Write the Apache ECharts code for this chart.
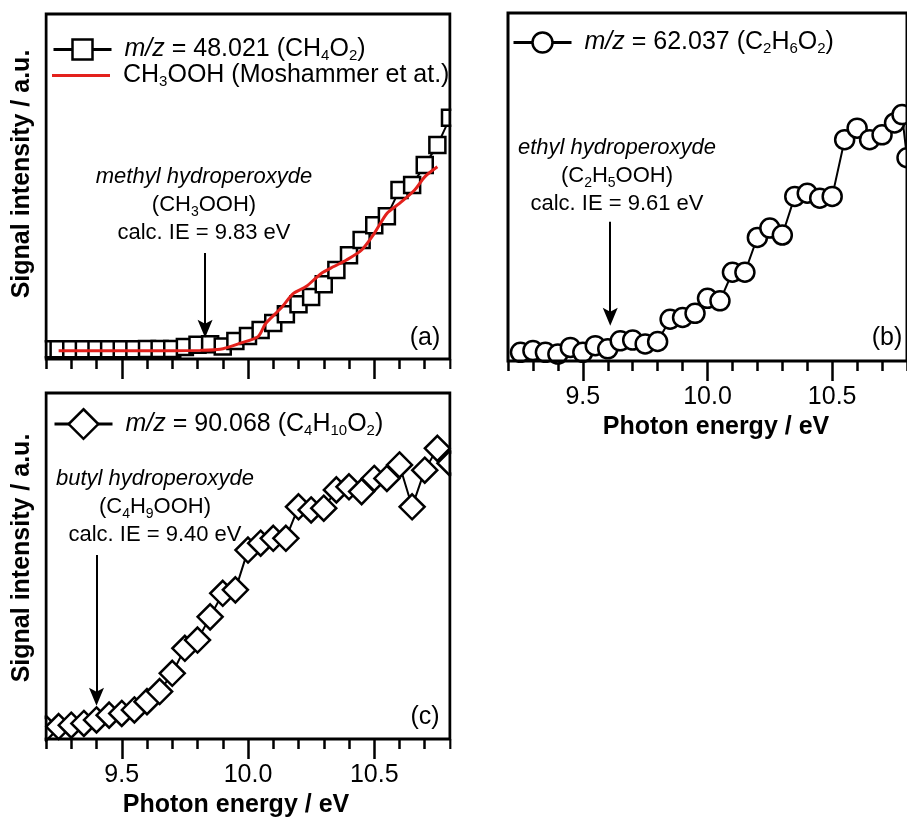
<!DOCTYPE html>
<html>
<head>
<meta charset="utf-8">
<script src="https://cdn.jsdelivr.net/npm/echarts@6/dist/echarts.min.js"></script>
<style>html,body{margin:0;padding:0;background:#fff}#chart{width:907px;height:817px}</style>
</head>
<body>
<div id="chart"></div>
<script>
// ---------------- data ----------------
const energyA = [9.20,9.25,9.30,9.35,9.40,9.45,9.50,9.55,9.60,9.65,9.70,9.75,9.80,9.85,9.90,9.95,10.00,10.05,10.10,10.15,10.20,10.25,10.30,10.35,10.40,10.45,10.50,10.55,10.60,10.65,10.70,10.75,10.80];
const signalA = [2.8,2.8,2.8,2.8,2.8,2.8,2.8,2.8,2.9,2.9,2.9,3.5,4.1,4.3,3.6,5.2,6.7,8.4,10.4,13.0,15.9,18.0,21.7,25.8,30.1,34.5,38.8,41.4,49.0,50.4,56.2,62.0,69.9];

const refEnergy = [9.25,9.40,9.60,9.81,9.89,9.97,10.04,10.07,10.13,10.18,10.23,10.29,10.34,10.39,10.45,10.50,10.55,10.60,10.66,10.70,10.75];
const refSignal = [2.4,2.4,2.4,2.5,2.8,4.6,6.5,10.3,14.7,19.0,21.0,24.8,26.8,28.7,31.6,36.4,42.2,45.1,49.0,52.8,55.7];

const energyB = [9.25,9.30,9.35,9.40,9.45,9.50,9.55,9.60,9.65,9.70,9.75,9.80,9.85,9.90,9.95,10.00,10.05,10.10,10.15,10.20,10.25,10.30,10.35,10.40,10.45,10.50,10.55,10.60,10.65,10.70,10.75,10.78,10.80];
const signalB = [2.5,3.0,2.5,2.0,3.9,2.5,4.4,3.5,5.8,6.0,4.9,5.6,12.0,12.5,13.7,18.0,17.3,25.5,25.5,35.5,38.2,36.2,47.3,48.2,46.8,47.3,63.6,66.9,63.6,65.0,68.4,70.8,58.4];

const energyC = [9.20,9.25,9.30,9.35,9.40,9.45,9.50,9.55,9.60,9.65,9.70,9.75,9.80,9.85,9.90,9.95,10.00,10.05,10.10,10.15,10.20,10.25,10.30,10.35,10.40,10.45,10.50,10.55,10.60,10.65,10.70,10.75,10.80];
const signalC = [3.1,3.6,4.0,4.5,5.5,6.9,7.4,8.4,10.8,13.7,19.0,26.2,28.6,35.3,42.1,43.1,54.6,56.6,58.0,58.0,67.1,66.2,66.7,72.0,72.9,71.5,75.3,75.3,79.2,67.1,77.7,84.0,79.7];

const majorTicks = [9.5, 10.0, 10.5];
const minorTicks = [9.2,9.3,9.4,9.5,9.6,9.7,9.8,9.9,10.0,10.1,10.2,10.3,10.4,10.5,10.6,10.7,10.8];
const xMin = 9.2, xMax = 10.8;

const ieA = 9.83, ieB = 9.61, ieC = 9.40;   // calculated ionisation energies

const nameA = 'm/z = 48.021 (CH4O2)';
const nameRef = 'CH3OOH (Moshammer et at.)';
const nameB = 'm/z = 62.037 (C2H6O2)';
const nameC = 'm/z = 90.068 (C4H10O2)';

// ---------------- styling ----------------
const FONT = 'Liberation Sans, Arial, Helvetica, sans-serif';
const richLegend = {
  n: {fontSize: 25, lineHeight: 28, fontFamily: FONT, color: '#000'},
  i: {fontSize: 25, lineHeight: 28, fontFamily: FONT, fontStyle: 'italic', color: '#000'},
  s: {fontSize: 15, lineHeight: 15, fontFamily: FONT, verticalAlign: 'bottom', color: '#000'}
};
const richNote = {
  n: {fontSize: 22, lineHeight: 28, fontFamily: FONT, color: '#000'},
  it: {fontSize: 22, lineHeight: 28, fontFamily: FONT, fontStyle: 'italic', color: '#000'},
  s: {fontSize: 14, lineHeight: 14, fontFamily: FONT, verticalAlign: 'bottom', color: '#000'}
};
const legendRich = {};
legendRich[nameA] = '{i|m/z}{n| = 48.021 (CH}{s|4}{n|O}{s|2}{n|)}';
legendRich[nameRef] = '{n|CH}{s|3}{n|OOH (Moshammer et at.)}';
legendRich[nameB] = '{i|m/z}{n| = 62.037 (C}{s|2}{n|H}{s|6}{n|O}{s|2}{n|)}';
legendRich[nameC] = '{i|m/z}{n| = 90.068 (C}{s|4}{n|H}{s|10}{n|O}{s|2}{n|)}';

const zip = (xs, ys) => xs.map((x, i) => [x, ys[i]]);

function xAxesFor(gridIndex, showLabels) {
  return [
    {
      type: 'value', gridIndex, min: xMin, max: xMax, position: 'bottom',
      axisLine: {show: false}, splitLine: {show: false},
      axisTick: {show: true, inside: false, length: 20, customValues: majorTicks, lineStyle: {color: '#000', width: 2.5}},
      axisLabel: {show: showLabels, customValues: majorTicks, margin: 24, color: '#000', fontSize: 25, fontFamily: FONT,
        formatter: v => v.toFixed(1)}
    },
    {
      type: 'value', gridIndex, min: xMin, max: xMax, position: 'bottom',
      axisLine: {show: false}, splitLine: {show: false},
      axisTick: {show: true, inside: false, length: 10, customValues: minorTicks, lineStyle: {color: '#000', width: 2.5}},
      axisLabel: {show: false}
    }
  ];
}
function yAxisFor(gridIndex) {
  return {type: 'value', gridIndex, min: 0, max: 100, axisLine: {show: false}, axisTick: {show: false},
    axisLabel: {show: false}, splitLine: {show: false}};
}
// frame drawn above the markers, as in the original plot
const gridStyle = {show: true, z: 6, borderColor: '#000', borderWidth: 3, backgroundColor: 'transparent', containLabel: false};

const ARROW_HEAD = 'path://M0,-9L7,9L0,5L-7,9Z';
function arrow(ie, top, tip) {
  return {
    silent: true, animation: false,
    symbol: ['none', ARROW_HEAD], symbolSize: [15, 18],
    label: {show: false},
    lineStyle: {color: '#000', width: 2, type: 'solid'},
    itemStyle: {color: '#000'},
    emphasis: {disabled: true},
    data: [[{coord: [ie, top]}, {coord: [ie, tip]}]]
  };
}

function scatterLine(name, xi, yi, xs, ys, symbol, size, mark) {
  return {
    name, type: 'line', xAxisIndex: xi, yAxisIndex: yi, data: zip(xs, ys),
    symbol, symbolSize: size, showSymbol: true, showAllSymbol: true, clip: true,
    itemStyle: {color: '#fff', borderColor: '#000', borderWidth: 2.5},
    lineStyle: {color: '#000', width: 2},
    emphasis: {disabled: true}, z: 3,
    markLine: mark
  };
}

function legendFor(names, left, top, itemHeight, extra) {
  return Object.assign({
    data: names, left, top, orient: 'vertical', padding: 0, itemGap: 0,
    itemWidth: 58, itemHeight, selectedMode: false,
    formatter: n => legendRich[n],
    textStyle: {color: '#000', fontSize: 25, fontFamily: FONT, padding: [0, 0, 0, 8], rich: richLegend},
    lineStyle: {width: 3, color: '#000'},
    itemStyle: {borderWidth: 2.5, borderColor: '#000', color: '#fff'}
  }, extra || {});
}

function note(x, y, text) {
  return {type: 'text', x, y, z: 1, silent: true,
    style: {text, align: 'center', verticalAlign: 'middle', rich: richNote, fontFamily: FONT, fontSize: 22, fill: '#000'}};
}
function plainText(x, y, text, size, weight, rot) {
  return {type: 'text', x, y, rotation: rot || 0, z: 101, silent: true,
    style: {text, align: 'center', verticalAlign: 'middle', fontFamily: FONT, fontSize: size, fontWeight: weight, fill: '#000'}};
}
// white margins outside the left/right frames so edge markers look clipped by the frame
function cover(x, w) {
  return {type: 'rect', z: 100, silent: true, shape: {x, y: 0, width: w, height: 817}, style: {fill: '#fff'}};
}

const option = {
  animation: false,
  backgroundColor: '#fff',
  grid: [
    Object.assign({left: 46, top: 14, width: 404, height: 345}, gridStyle),
    Object.assign({left: 508, top: 13, width: 404, height: 348}, gridStyle),
    Object.assign({left: 46, top: 393, width: 404, height: 346}, gridStyle)
  ],
  xAxis: [].concat(xAxesFor(0, false), xAxesFor(1, true), xAxesFor(2, true)),
  yAxis: [yAxisFor(0), yAxisFor(1), yAxisFor(2)],
  legend: [
    legendFor([nameA], 52, 37, 25),
    legendFor([{name: nameRef, icon: 'rect', itemStyle: {color: '#e3211c', borderWidth: 0}}], 52, 63, 3),
    legendFor([nameB], 512, 30, 25),
    legendFor([nameC], 53, 408, 37)
  ],
  series: [
    scatterLine(nameA, 0, 0, energyA, signalA, 'rect', 16, arrow(ieA, 30.7, 8.8)),
    {
      name: nameRef, type: 'line', xAxisIndex: 0, yAxisIndex: 0, data: zip(refEnergy, refSignal),
      symbol: 'none', smooth: 0.25, z: 4,
      itemStyle: {color: '#e3211c'}, lineStyle: {color: '#e3211c', width: 3},
      emphasis: {disabled: true}
    },
    scatterLine(nameB, 2, 1, energyB, signalB, 'circle', 19, arrow(ieB, 40.0, 12.7)),
    scatterLine(nameC, 4, 2, energyC, signalC, 'diamond', 25, arrow(ieC, 53.2, 12.2))
  ],
  graphic: [
    cover(0, 44.5),
    cover(451.5, 50),
    note(204, 205, '{it|methyl hydroperoxyde}\n{n|(CH}{s|3}{n|OOH)}\n{n|calc. IE = 9.83 eV}'),
    note(617, 176, '{it|ethyl hydroperoxyde}\n{n|(C}{s|2}{n|H}{s|5}{n|OOH)}\n{n|calc. IE = 9.61 eV}'),
    note(155, 507, '{it|butyl hydroperoxyde}\n{n|(C}{s|4}{n|H}{s|9}{n|OOH)}\n{n|calc. IE = 9.40 eV}'),
    plainText(425, 338, '(a)', 25, 'normal'),
    plainText(887, 338, '(b)', 25, 'normal'),
    plainText(425, 717, '(c)', 25, 'normal'),
    plainText(22, 174, 'Signal intensity / a.u.', 25, 'bold', Math.PI / 2),
    plainText(22, 558, 'Signal intensity / a.u.', 25, 'bold', Math.PI / 2),
    plainText(716, 427, 'Photon energy / eV', 25, 'bold'),
    plainText(236, 805, 'Photon energy / eV', 25, 'bold')
  ]
};

const chart = echarts.init(document.getElementById('chart'), null, {renderer: 'canvas'});
chart.setOption(option);
</script>
</body>
</html>
